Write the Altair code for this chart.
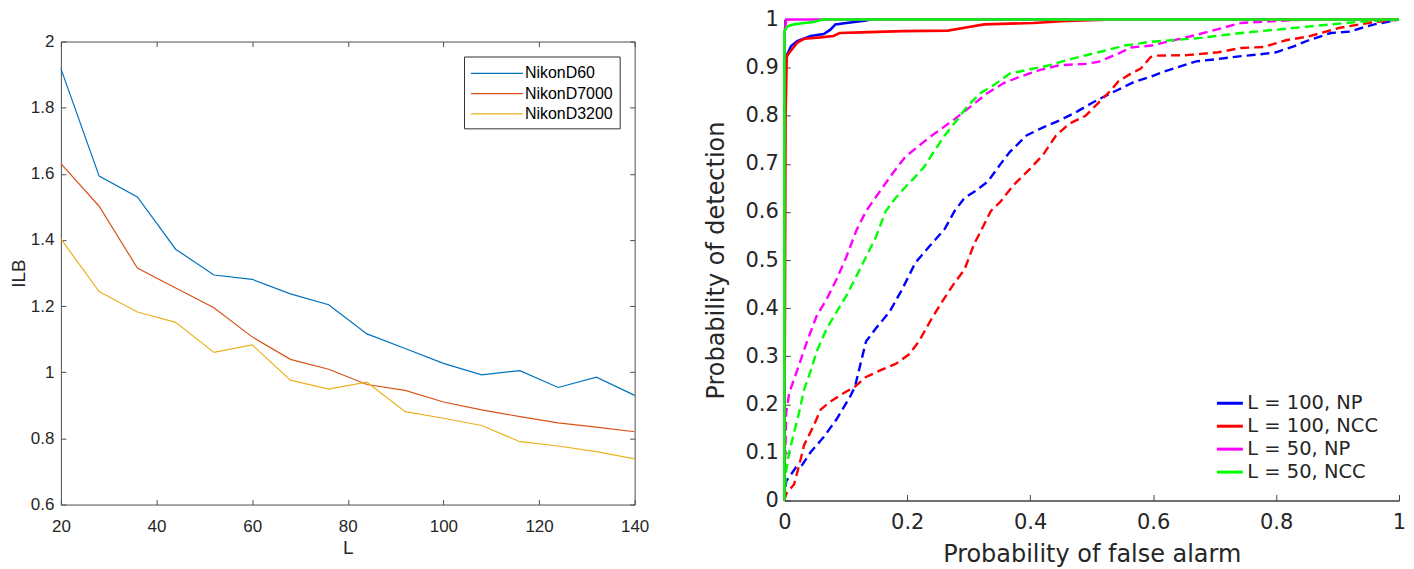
import altair as alt
import pandas as pd

# ---------------- left panel data ----------------
L_values = [20, 28, 36, 44, 52, 60, 68, 76, 84, 92, 100, 108, 116, 124, 132, 140]
ilb_d60 = [1.918, 1.593, 1.530, 1.372, 1.294, 1.281, 1.237, 1.204, 1.116, 1.072,
           1.027, 0.992, 1.005, 0.954, 0.985, 0.930]
ilb_d7000 = [1.631, 1.502, 1.315, 1.255, 1.195, 1.107, 1.039, 1.009, 0.963, 0.945,
             0.910, 0.886, 0.866, 0.847, 0.834, 0.820]
ilb_d3200 = [1.403, 1.244, 1.182, 1.151, 1.060, 1.083, 0.976, 0.949, 0.970, 0.881,
             0.861, 0.839, 0.790, 0.777, 0.760, 0.738]
cameras = ["NikonD60", "NikonD7000", "NikonD3200"]
camera_colors = ["#0072BD", "#D95319", "#EDB120"]
left_x_ticks = [20, 40, 60, 80, 100, 120, 140]
left_y_ticks = [0.6, 0.8, 1.0, 1.2, 1.4, 1.6, 1.8, 2.0]

# ---------------- right panel data (x = P_fa, y = P_d) ----------------
series_labels = ["L = 100, NP", "L = 100, NCC", "L = 50, NP", "L = 50, NCC"]
series_colors = ["#0000ff", "#ff0000", "#ff00ff", "#00ff00"]

np100_solid = [(0, 0), (0, 0.9), (0.005, 0.928), (0.011, 0.945), (0.021, 0.955), (0.043, 0.966),
               (0.064, 0.97), (0.075, 0.979), (0.083, 0.99), (0.101, 0.993), (0.133, 0.998),
               (0.14, 1.0), (1, 1)]
ncc100_solid = [(0, 0), (0.002, 0.8), (0.004, 0.924), (0.008, 0.931), (0.021, 0.952), (0.032, 0.96),
                (0.059, 0.963), (0.08, 0.966), (0.09, 0.972), (0.138, 0.974), (0.192, 0.976),
                (0.266, 0.977), (0.298, 0.984), (0.325, 0.99), (0.405, 0.993), (0.458, 0.997),
                (0.511, 0.999), (0.53, 1.0), (1, 1)]
np50_solid = [(0, 0), (0, 0.97), (0.003, 1.0), (1, 1)]
ncc50_solid = [(0, 0), (0, 0.975), (0.005, 0.986), (0.016, 0.99), (0.032, 0.993), (0.048, 0.995),
               (0.059, 0.999), (0.065, 1.0), (1, 1)]

np100_dashed = [(0, 0), (0.003, 0.04), (0.019, 0.069), (0.029, 0.074), (0.043, 0.101), (0.064, 0.132),
                (0.085, 0.169), (0.107, 0.216), (0.115, 0.237), (0.125, 0.29), (0.133, 0.331),
                (0.149, 0.358), (0.171, 0.392), (0.192, 0.44), (0.213, 0.494), (0.235, 0.527),
                (0.261, 0.565), (0.277, 0.602), (0.293, 0.629), (0.309, 0.642), (0.331, 0.663),
                (0.352, 0.7), (0.367, 0.725), (0.394, 0.759), (0.421, 0.776), (0.447, 0.79),
                (0.474, 0.807), (0.501, 0.827), (0.522, 0.841), (0.543, 0.854), (0.57, 0.871),
                (0.596, 0.881), (0.618, 0.892), (0.67, 0.913), (0.705, 0.918), (0.743, 0.924),
                (0.775, 0.928), (0.8, 0.932), (0.83, 0.945), (0.853, 0.957), (0.889, 0.972),
                (0.92, 0.975), (0.94, 0.983), (0.96, 0.99), (1, 1)]
ncc100_dashed = [(0, 0), (0.003, 0.014), (0.016, 0.034), (0.027, 0.088), (0.032, 0.115), (0.048, 0.156),
                 (0.059, 0.189), (0.075, 0.206), (0.096, 0.223), (0.115, 0.237), (0.133, 0.257),
                 (0.155, 0.27), (0.181, 0.284), (0.203, 0.304), (0.219, 0.331), (0.24, 0.379),
                 (0.256, 0.412), (0.277, 0.453), (0.293, 0.48), (0.309, 0.534), (0.32, 0.561),
                 (0.336, 0.602), (0.352, 0.622), (0.373, 0.656), (0.4, 0.69), (0.421, 0.719),
                 (0.442, 0.759), (0.463, 0.783), (0.49, 0.8), (0.511, 0.827), (0.532, 0.854),
                 (0.543, 0.871), (0.564, 0.888), (0.58, 0.898), (0.596, 0.922), (0.607, 0.925),
                 (0.655, 0.926), (0.706, 0.932), (0.743, 0.941), (0.78, 0.943), (0.816, 0.957),
                 (0.853, 0.965), (0.904, 0.983), (0.955, 0.994), (1, 1)]
np50_dashed = [(0, 0), (0.003, 0.183), (0.008, 0.224), (0.021, 0.271), (0.037, 0.331), (0.053, 0.385),
               (0.069, 0.419), (0.085, 0.46), (0.101, 0.507), (0.117, 0.561), (0.133, 0.602),
               (0.155, 0.642), (0.176, 0.68), (0.197, 0.715), (0.234, 0.753), (0.277, 0.793),
               (0.304, 0.82), (0.33, 0.847), (0.357, 0.868), (0.383, 0.881), (0.415, 0.895),
               (0.447, 0.905), (0.49, 0.908), (0.511, 0.912), (0.543, 0.929), (0.564, 0.942),
               (0.597, 0.946), (0.67, 0.968), (0.743, 0.993), (0.8, 0.997), (0.85, 1.0), (1, 1)]
ncc50_dashed = [(0, 0), (0.003, 0.061), (0.008, 0.101), (0.016, 0.142), (0.024, 0.183), (0.032, 0.23),
                (0.043, 0.27), (0.053, 0.311), (0.069, 0.358), (0.085, 0.392), (0.101, 0.426),
                (0.117, 0.466), (0.133, 0.507), (0.149, 0.548), (0.165, 0.602), (0.181, 0.629),
                (0.197, 0.652), (0.213, 0.673), (0.229, 0.696), (0.24, 0.719), (0.261, 0.759),
                (0.282, 0.793), (0.298, 0.82), (0.319, 0.847), (0.341, 0.864), (0.367, 0.888),
                (0.394, 0.895), (0.431, 0.905), (0.469, 0.919), (0.511, 0.932), (0.554, 0.946),
                (0.591, 0.953), (0.618, 0.956), (0.67, 0.961), (0.743, 0.972), (0.816, 0.981),
                (0.889, 0.99), (0.94, 0.996), (1, 1)]
right_x_ticks = [0, 0.2, 0.4, 0.6, 0.8, 1]
right_y_ticks = [0, 0.1, 0.2, 0.3, 0.4, 0.5, 0.6, 0.7, 0.8, 0.9, 1]

# ---------------- tables ----------------
left_rows = []
for cam, vals in zip(cameras, [ilb_d60, ilb_d7000, ilb_d3200]):
    for L, v in zip(L_values, vals):
        left_rows.append({"camera": cam, "L": L, "ILB": v})
left_df = pd.DataFrame(left_rows)


def to_frame(points, label):
    return pd.DataFrame([{"series": label, "i": k, "pfa": p[0], "pd": p[1]}
                         for k, p in enumerate(points)])


solid_sets = [np100_solid, ncc100_solid, np50_solid, ncc50_solid]
dashed_sets = [np100_dashed, ncc100_dashed, np50_dashed, ncc50_dashed]
dashed_df = pd.concat([to_frame(pts, lab) for pts, lab in zip(dashed_sets, series_labels)],
                      ignore_index=True)


def tick_axis(values, orient, offset, size, color):
    return alt.Axis(values=values, title=None, orient=orient, offset=offset, domain=False,
                    labels=False, ticks=True, tickSize=size, tickColor=color, grid=False)


# ---------------- left chart ----------------
LW, LH = 575, 464
LFONT = "Liberation Sans"
LTICK = "#4d4d4d"
left_xscale = alt.Scale(domain=[20, 140], nice=False, zero=False)
left_yscale = alt.Scale(domain=[0.6, 2.0], nice=False, zero=False)

ax_bottom = alt.Axis(values=left_x_ticks, title="L", orient="bottom", domain=False, ticks=False,
                     labelFont=LFONT, labelFontSize=17, labelColor="#262626",
                     labelPadding=14, labelFlush=False, labelOverlap=False, titleFont=LFONT,
                     titleFontSize=19, titleFontWeight="normal", titleColor="#262626",
                     titlePadding=4, format="d", grid=False)
ax_left = alt.Axis(values=left_y_ticks, title="ILB", orient="left", domain=False, ticks=False,
                   labelFont=LFONT, labelFontSize=17, labelColor="#262626",
                   labelPadding=7, labelOverlap=False, titleFont=LFONT, titleFontSize=19,
                   titleFontWeight="normal", titleColor="#262626", titlePadding=2, format="~g",
                   grid=False)

left_legend = alt.Legend(title=None, orient="none", legendX=404, legendY=37, direction="vertical",
                         fillColor="white", strokeColor="#333333", padding=6,
                         symbolType="M-1,0H4.2", symbolSize=400, symbolStrokeWidth=1.2,
                         labelFont=LFONT, labelFontSize=16, labelColor="#000000", labelOffset=33,
                         rowPadding=1.3)

left_lines = alt.Chart(left_df).mark_line(strokeWidth=1.2).encode(
    x=alt.X("L:Q", scale=left_xscale, axis=ax_bottom),
    y=alt.Y("ILB:Q", scale=left_yscale, axis=ax_left),
    color=alt.Color("camera:N", scale=alt.Scale(domain=cameras, range=camera_colors),
                    legend=left_legend),
)
# inward ticks on the bottom and left edges
left_ticks_a = alt.Chart(left_df).mark_line(opacity=0).encode(
    x=alt.X("L:Q", scale=left_xscale, axis=tick_axis(left_x_ticks, "top", -LH, 5, LTICK)),
    y=alt.Y("ILB:Q", scale=left_yscale, axis=tick_axis(left_y_ticks, "right", -LW, 5, LTICK)),
    detail="camera:N",
)
# inward ticks on the top and right edges
left_ticks_b = alt.Chart(left_df).mark_line(opacity=0).encode(
    x=alt.X("L:Q", scale=left_xscale, axis=tick_axis(left_x_ticks, "bottom", -LH, 5, LTICK)),
    y=alt.Y("ILB:Q", scale=left_yscale, axis=tick_axis(left_y_ticks, "left", -LW, 5, LTICK)),
    detail="camera:N",
)
left = alt.layer(left_lines, left_ticks_a, left_ticks_b).resolve_axis(
    x="independent", y="independent"
).properties(
    width=LW, height=LH,
    view=alt.ViewBackground(stroke=LTICK, strokeWidth=1),
)

spacer = alt.Chart(pd.DataFrame({"a": [0]})).mark_point(opacity=0, size=1).encode(
    x=alt.value(5), y=alt.value(5)
).properties(width=LW, height=12, view=alt.ViewBackground(strokeOpacity=0))

left_col = alt.vconcat(spacer, left, spacing=0)

# ---------------- right chart ----------------
RW, RH = 616, 482
RFONT = "DejaVu Sans"
RAX = "#404040"
rx_scale = alt.Scale(domain=[0, 1], nice=False)
ry_scale = alt.Scale(domain=[0, 1], nice=False)
color_scale = alt.Scale(domain=series_labels, range=series_colors)

ax_rx = alt.Axis(values=right_x_ticks, title="Probability of false alarm", orient="bottom",
                 domain=True, domainColor=RAX, domainWidth=1.6, ticks=False,
                 labelFont=RFONT, labelFontSize=21, labelColor="#262626", labelPadding=11,
                 labelFlush=False, labelOverlap=False, titleFont=RFONT, titleFontSize=24,
                 titleFontWeight="normal", titleColor="#262626", titlePadding=10, format="~g",
                 grid=False)
ax_ry = alt.Axis(values=right_y_ticks, title="Probability of detection", orient="left",
                 domain=True, domainColor=RAX, domainWidth=1.6, ticks=False,
                 labelFont=RFONT, labelFontSize=21, labelColor="#262626", labelPadding=6,
                 labelOverlap=False, titleFont=RFONT, titleFontSize=24, titleFontWeight="normal",
                 titleColor="#262626", titlePadding=17, format="~g", grid=False)
right_legend = alt.Legend(title=None, orient="none", legendX=432, legendY=374,
                          direction="vertical", padding=0, symbolType="M-1,0H1.89",
                          symbolSize=324, symbolStrokeWidth=3, labelFont=RFONT,
                          labelFontSize=19.5, labelColor="#262626", labelOffset=11, rowPadding=3)

right_ticks = alt.Chart(dashed_df).mark_line(opacity=0).encode(
    x=alt.X("pfa:Q", scale=rx_scale, axis=tick_axis(right_x_ticks, "top", -RH, 6, RAX)),
    y=alt.Y("pd:Q", scale=ry_scale, axis=tick_axis(right_y_ticks, "right", -RW, 6, RAX)),
    detail="series:N",
)
dashed_layers = []
for pts, col in zip(dashed_sets, series_colors):
    dashed_layers.append(
        alt.Chart(to_frame(pts, "d")).mark_line(strokeWidth=2.4, strokeDash=[9, 5]).encode(
            x=alt.X("pfa:Q", scale=rx_scale, axis=ax_rx),
            y=alt.Y("pd:Q", scale=ry_scale, axis=ax_ry),
            color=alt.value(col),
            order="i:Q",
        )
    )
solid_layers = []
for pts, lab in zip(solid_sets, series_labels):
    solid_layers.append(
        alt.Chart(to_frame(pts, lab)).mark_line(strokeWidth=2.6).encode(
            x=alt.X("pfa:Q", scale=rx_scale, axis=ax_rx),
            y=alt.Y("pd:Q", scale=ry_scale, axis=ax_ry),
            color=alt.Color("series:N", scale=color_scale, legend=right_legend),
            order="i:Q",
        )
    )
right_main = alt.layer(*dashed_layers, *solid_layers)
right = alt.layer(right_ticks, right_main).resolve_axis(
    x="independent", y="independent"
).properties(
    width=RW, height=RH,
    view=alt.ViewBackground(strokeOpacity=0),
)

chart = alt.hconcat(left_col, right, spacing=54).resolve_scale(
    color="independent"
).resolve_legend(color="independent").properties(padding=0).configure(background="white")

chart.save("out.html", embed_options={"renderer": "svg", "actions": False})
